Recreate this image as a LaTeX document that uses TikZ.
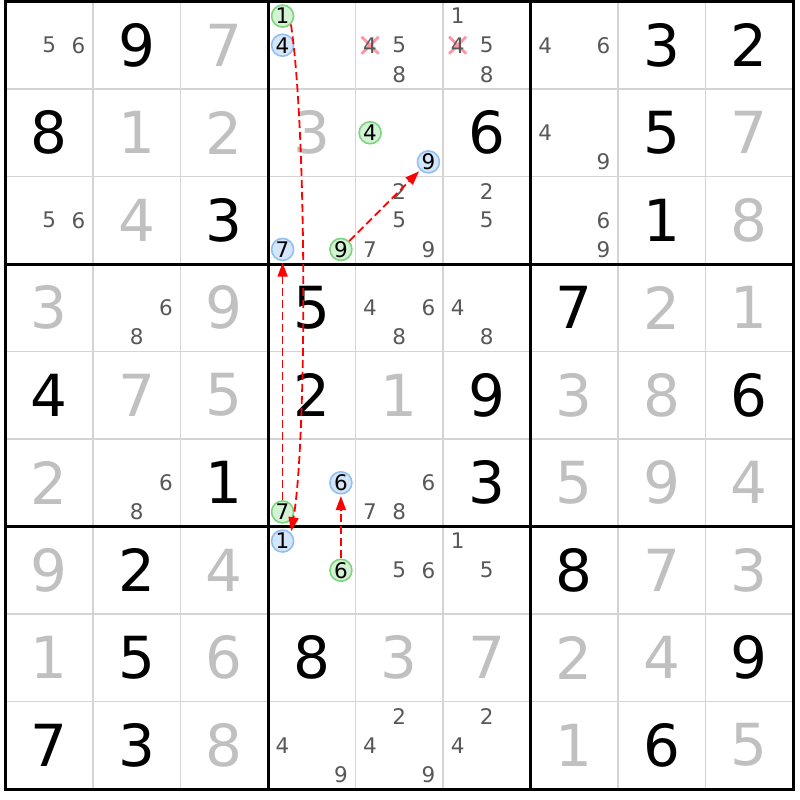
\documentclass[tikz,border=0pt]{standalone}
\usepackage{fontspec}
\setmainfont{DejaVu Sans}
\usetikzlibrary{arrows.meta,calc}
\definecolor{solvedcol}{RGB}{192,192,192}
\definecolor{candcol}{RGB}{88,88,88}
\definecolor{gridthin}{RGB}{212,212,212}
\definecolor{greenfill}{RGB}{212,242,212}
\definecolor{greenline}{RGB}{125,212,125}
\definecolor{bluefill}{RGB}{212,230,250}
\definecolor{blueline}{RGB}{145,192,240}
\definecolor{crosscol}{RGB}{255,150,165}
\begin{document}
\begin{tikzpicture}[x=1pt,y=-1pt,
  given/.style={font=\fontsize{58}{58}\selectfont, text=black, inner sep=0pt},
  solved/.style={given, text=solvedcol},
  cand/.style={font=\fontsize{21.5}{21.5}\selectfont, text=candcol, inner sep=0pt},
  gcirc/.style={circle, draw=greenline, fill=greenfill, line width=1.6pt, minimum size=22pt, inner sep=0pt, text=black, font=\fontsize{21.5}{21.5}\selectfont},
  bcirc/.style={gcirc, draw=blueline, fill=bluefill},
  thinline/.style={gridthin, line width=1.8pt},
  thickline/.style={black, line width=3pt},
  crossline/.style={crosscol, line width=2.8pt},
  link/.style={red, line width=1.8pt, dash pattern=on 8pt off 4pt, shorten >=1.5pt, -{Triangle[length=14pt,width=10pt]}}
]
\useasboundingbox[fill=white] (0,0) rectangle (800,800);
% grid
\foreach \i in {1,2,4,5,7,8} {
  \draw[thinline] ({5.5+87.5*\i},1.5) -- ({5.5+87.5*\i},789);
  \draw[thinline] (5.5,{1.5+87.5*\i}) -- (793,{1.5+87.5*\i});
}
\foreach \i in {0,3,6,9} {
  \draw[thickline] ({5.5+87.5*\i},0) -- ({5.5+87.5*\i},790.5);
  \draw[thickline] (4,{1.5+87.5*\i}) -- (794.5,{1.5+87.5*\i});
}
% given digits
\foreach \r/\c/\d in {0/1/9,0/7/3,0/8/2, 1/0/8,1/5/6,1/7/5, 2/2/3,2/7/1, 3/3/5,3/6/7,
  4/0/4,4/3/2,4/5/9,4/8/6, 5/2/1,5/5/3, 6/1/2,6/6/8, 7/1/5,7/3/8,7/8/9, 8/0/7,8/1/3,8/7/6}
  \node[given] (g\r\c) at ({5.5+87.5*(\c+0.5)},{1.5+87.5*(\r+0.5)}) {\d};
% solved digits
\foreach \r/\c/\d in {0/2/7, 1/1/1,1/2/2,1/3/3,1/8/7, 2/1/4,2/8/8, 3/0/3,3/2/9,3/7/2,3/8/1,
  4/1/7,4/2/5,4/4/1,4/6/3,4/7/8, 5/0/2,5/6/5,5/7/9,5/8/4, 6/0/9,6/2/4,6/7/7,6/8/3,
  7/0/1,7/2/6,7/4/3,7/5/7,7/6/2,7/7/4, 8/2/8,8/6/1,8/8/5}
  \node[solved] (s\r\c) at ({5.5+87.5*(\c+0.5)},{1.5+87.5*(\r+0.5)}) {\d};
% eliminations (crosses)
\foreach \c in {4,5} {
  \coordinate (x\c) at ({5.5+87.5*\c+29.1667*0.5},{1.5+29.1667*1.5});
  \draw[crossline] ($(x\c)+(-8.5,-8.5)$) -- ($(x\c)+(8.5,8.5)$);
  \draw[crossline] ($(x\c)+(-8.5,8.5)$) -- ($(x\c)+(8.5,-8.5)$);
}
% plain candidates
\foreach \r/\c/\ds in {0/0/{5,6}, 0/4/{4,5,8}, 0/5/{1,4,5,8}, 0/6/{4,6}, 1/6/{4,9},
  2/0/{5,6}, 2/4/{2,5,7,9}, 2/5/{2,5}, 2/6/{6,9}, 3/1/{6,8}, 3/4/{4,6,8}, 3/5/{4,8},
  5/1/{6,8}, 5/4/{6,7,8}, 6/4/{5,6}, 6/5/{1,5}, 8/3/{4,9}, 8/4/{2,4,9}, 8/5/{2,4}}
  \foreach \d in \ds
    \node[cand] (k\r\c\d) at ({5.5+87.5*\c+29.1667*(mod(\d-1,3)+0.5)},{1.5+87.5*\r+29.1667*(floor((\d-1)/3)+0.5)}) {\d};
% highlighted candidates
\foreach \r/\c/\d/\s in {0/3/1/gcirc, 0/3/4/bcirc, 1/4/4/gcirc, 1/4/9/bcirc, 2/3/7/bcirc, 2/3/9/gcirc,
  5/3/6/bcirc, 5/3/7/gcirc, 6/3/1/bcirc, 6/3/6/gcirc}
  \node[\s] (h\r\c\d) at ({5.5+87.5*\c+29.1667*(mod(\d-1,3)+0.5)},{1.5+87.5*\r+29.1667*(floor((\d-1)/3)+0.5)}) {\d};
% links
\draw[link] (h031.-45) .. controls (307,130) and (307,440) .. (h631.45);
\draw[link] (h537) -- (h237);
\draw[link] (h239) -- (h149);
\draw[link] (h636) -- (h536);
\end{tikzpicture}
\end{document}
